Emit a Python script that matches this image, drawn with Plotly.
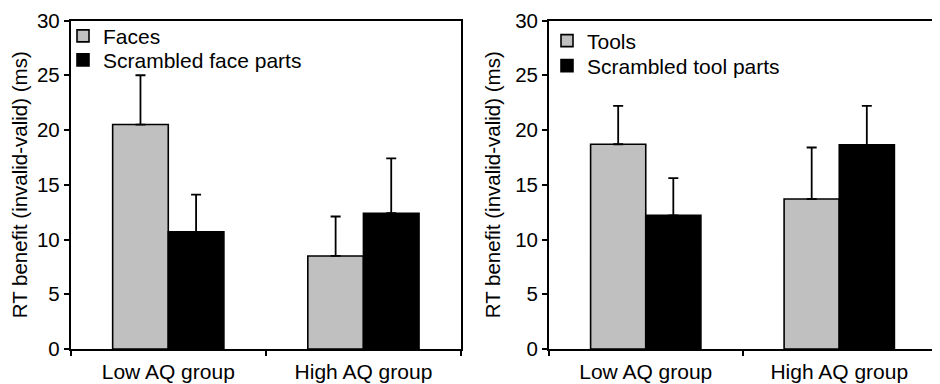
import plotly.graph_objects as go

groups = ["Low AQ group", "High AQ group"]

faces = [20.5, 8.5]
faces_err = [4.5, 3.6]
scr_faces = [10.7, 12.4]
scr_faces_err = [3.4, 5.0]

tools = [18.7, 13.7]
tools_err = [3.5, 4.7]
scr_tools = [12.2, 18.65]
scr_tools_err = [3.4, 3.55]

yticks = [0, 5, 10, 15, 20, 25, 30]

GRAY = "#c0c0c0"
BLACK = "#000000"
FONT = "Liberation Sans, Arial, sans-serif"

# page body has an 8px margin: figure is drawn at (8, 8) in the window
W, H = 932, 376
OFF = 8


def px_x(v):
    return (v - OFF) / W


def px_y(v):
    return 1 - (v - OFF) / H


def bar(name, y, err, color, xa, ya, legend):
    return go.Bar(
        name=name, x=groups, y=y, xaxis=xa, yaxis=ya, legend=legend,
        marker=dict(color=color, line=dict(color="black", width=1.6)),
        error_y=dict(type="data", array=err, arrayminus=[0] * len(err),
                     symmetric=False, color="black", thickness=1.8, width=5),
    )


fig = go.Figure()
fig.add_trace(bar("Faces", faces, faces_err, GRAY, "x", "y", "legend"))
fig.add_trace(bar("Scrambled face parts", scr_faces, scr_faces_err, BLACK, "x", "y", "legend2"))
fig.add_trace(bar("Tools", tools, tools_err, GRAY, "x2", "y2", "legend3"))
fig.add_trace(bar("Scrambled tool parts", scr_tools, scr_tools_err, BLACK, "x2", "y2", "legend4"))

xcommon = dict(type="category", categoryorder="array", categoryarray=groups,
               range=[-0.5, 1.5], tickson="boundaries", ticks="outside", ticklen=5,
               tickwidth=1.8, tickcolor="black", showline=True, linecolor="black",
               linewidth=1.8, mirror=True, showgrid=False, zeroline=False,
               ticklabelstandoff=3, automargin=False,
               tickfont=dict(size=21, color="black", family=FONT))
ycommon = dict(range=[0, 30], tickvals=yticks, ticks="outside", ticklen=5,
               tickwidth=1.8, tickcolor="black", showline=True, linecolor="black",
               linewidth=1.8, mirror=True, showgrid=False, zeroline=False,
               automargin=False,
               tickfont=dict(size=20.5, color="black", family=FONT),
               title=dict(text="RT benefit (invalid-valid) (ms)",
                          font=dict(size=20.5, color="black", family=FONT), standoff=9))

ydom = [px_y(349), px_y(20.5)]


def leg(xw, top_w):
    return dict(x=px_x(xw), y=px_y(top_w), xanchor="left", yanchor="top",
                bgcolor="rgba(0,0,0,0)", font=dict(size=21, family=FONT),
                itemwidth=30)


fig.update_layout(
    width=W, height=H,
    margin=dict(l=0, r=0, t=0, b=0, autoexpand=False),
    paper_bgcolor="white", plot_bgcolor="white",
    barmode="group", bargap=0.43, bargroupgap=0,
    font=dict(family=FONT, size=20, color="black"),
    xaxis=dict(domain=[px_x(70.7), px_x(461)], anchor="y", **xcommon),
    yaxis=dict(domain=ydom, anchor="x", **ycommon),
    xaxis2=dict(domain=[px_x(549), px_x(936)], anchor="y2", **xcommon),
    yaxis2=dict(domain=ydom, anchor="x2", **ycommon),
    legend=leg(63, 15.7),
    legend2=leg(63, 39.7),
    legend3=leg(547, 20.5),
    legend4=leg(547, 45.5),
    showlegend=True,
)

fig.write_html("out.html")
